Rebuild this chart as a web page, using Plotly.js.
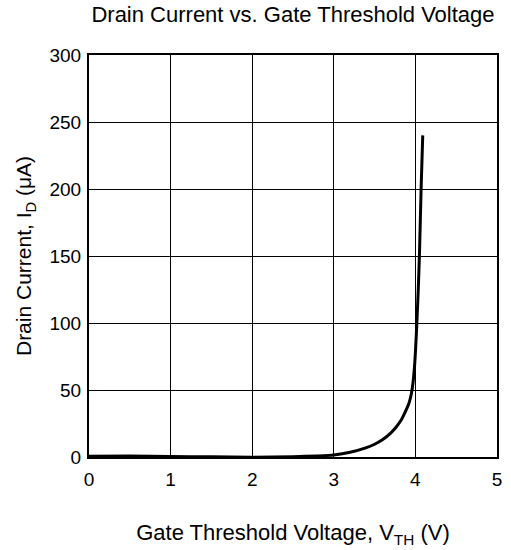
<!DOCTYPE html>
<html>
<head>
<meta charset="utf-8">
<script src="https://cdn.plot.ly/plotly-3.0.1.min.js"></script>
<style>html,body{margin:0;padding:0;background:#fff;}#chart{width:511px;height:550px;}</style>
</head>
<body>
<div id="chart"></div>
<script>
const vth = [0, 0.5, 1.0, 1.5, 2.0, 2.5, 2.8, 3.0, 3.2, 3.4, 3.5, 3.6, 3.7, 3.76, 3.82, 3.87, 3.92, 3.95, 3.97, 3.99, 4.0, 4.01, 4.02, 4.035, 4.05, 4.07, 4.09];
const idUA = [0.6, 0.7, 0.4, 0.1, -0.2, 0.2, 0.8, 1.5, 3.5, 7, 9.5, 13, 18, 22, 27, 33, 40, 47, 55, 68, 78, 90, 103, 125, 152, 200, 240];
const xTicks = [0, 1, 2, 3, 4, 5];
const yTicks = [0, 50, 100, 150, 200, 250, 300];

const font = "Liberation Sans, Arial, sans-serif";
Plotly.newPlot('chart', [{
  x: vth, y: idUA, type: 'scatter', mode: 'lines',
  line: {color: '#000', width: 3, shape: 'spline', smoothing: 0.5},
  hoverinfo: 'skip'
}], {
  width: 511, height: 550,
  margin: {l: 89, r: 14, t: 55, b: 93},
  paper_bgcolor: '#fff', plot_bgcolor: '#fff',
  showlegend: false,
  font: {family: font, color: '#000', size: 19},
  title: {text: 'Drain Current vs. Gate Threshold Voltage', font: {family: font, size: 22, color: '#000'},
    x: 0.5, xref: 'paper', xanchor: 'center', y: 1 - 14/550, yref: 'container', yanchor: 'middle'},
  xaxis: {range: [0, 5], tickvals: xTicks, ticktext: xTicks.map(String), showgrid: true, gridcolor: '#000', gridwidth: 1,
    zeroline: false, showline: true, linecolor: '#000', linewidth: 2, mirror: true, ticks: '',
    tickfont: {family: font, size: 19, color: '#000'}, ticklabelstandoff: 4,
    title: {text: 'Gate Threshold Voltage, V<sub>TH</sub> (V)', font: {family: font, size: 22, color: '#000'}, standoff: 36}},
  yaxis: {range: [0, 300], tickvals: yTicks, ticktext: yTicks.map(String), showgrid: true, gridcolor: '#000', gridwidth: 1,
    zeroline: false, showline: true, linecolor: '#000', linewidth: 2, mirror: true, ticks: '',
    tickfont: {family: font, size: 19, color: '#000'}, ticklabelstandoff: 2,
    title: {text: 'Drain Current, I<sub>D</sub> (μA)', font: {family: font, size: 21, color: '#000'}, standoff: 12}}
}, {staticPlot: true, displayModeBar: false});
</script>
</body>
</html>
